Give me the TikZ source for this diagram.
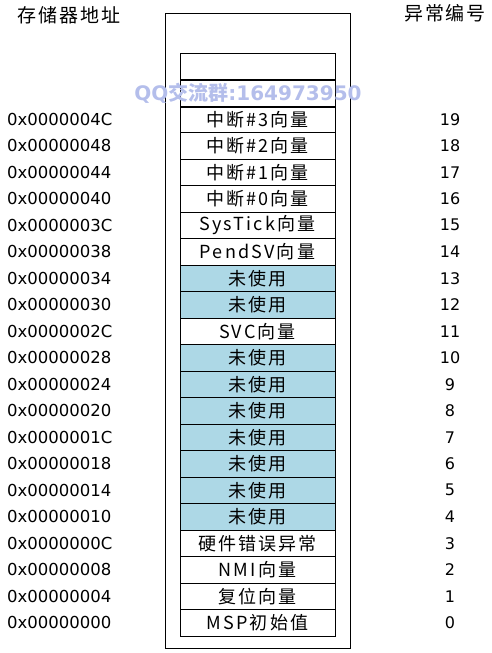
\documentclass[tikz,border=0pt]{standalone}
\usepackage{fontspec}
\setmainfont{DejaVu Sans}
\newfontfamily\cjk{Noto Sans CJK SC}
\usetikzlibrary{positioning}
\definecolor{unusedblue}{RGB}{173,216,230}
\definecolor{markblue}{RGB}{180,190,235}

\begin{document}
\begin{tikzpicture}[x=1pt,y=-1pt,
  vec/.style={draw,line width=1pt,minimum width=155pt,minimum height=26.5pt,inner sep=0pt,
    font=\cjk\fontsize{18}{18}\selectfont\addfontfeature{LetterSpace=12}},
  unused/.style={vec,fill=unusedblue},
  addr/.style={anchor=west,inner sep=0pt,font=\fontsize{16.5}{17}\selectfont},
  num/.style={inner sep=0pt,font=\fontsize{16}{17}\selectfont},
  head/.style={inner sep=0pt,font=\cjk\fontsize{19}{19}\selectfont\addfontfeature{LetterSpace=10}}]
\useasboundingbox (0,0) rectangle (492,653);
\node[draw,line width=1pt,minimum width=185pt,minimum height=635pt,inner sep=0pt] (mem) at (257.5,330.5) {};%外框
\node[head] (addrhead) at (69,15) {存储器地址};
\node[head] (numhead) at (445,13) {异常编号};
\node[vec] (e1) at (257.5,66.25) {};
\node[vec,below=0pt of e1] (e2) {};
\foreach \n/\adr/\lbl/\sty in {19/4C/中断\#3向量/vec, 18/48/中断\#2向量/vec,
    17/44/中断\#1向量/vec, 16/40/中断\#0向量/vec, 15/3C/SysTick向量/vec,
    14/38/PendSV向量/vec, 13/34/未使用/unused, 12/30/未使用/unused,
    11/2C/SVC向量/vec, 10/28/未使用/unused, 9/24/未使用/unused,
    8/20/未使用/unused, 7/1C/未使用/unused, 6/18/未使用/unused,
    5/14/未使用/unused, 4/10/未使用/unused, 3/0C/硬件错误异常/vec,
    2/08/NMI向量/vec, 1/04/复位向量/vec, 0/00/MSP初始值/vec}{
  \pgfmathsetmacro\yc{53+26.5*(21.5-\n)}
  \node[\sty] (v\n) at (257.5,\yc) {\lbl};
  \node[addr] (a\n) at (7,\yc) {0x000000\adr};
  \node[num] (n\n) at (450,\yc) {\n};
}
\node[text=markblue,inner sep=0pt,font=\bfseries\fontsize{20}{20}\selectfont] (qq) at (248,93) {QQ{\cjk 交流群}:164973950};%水印
\end{tikzpicture}
\end{document}
